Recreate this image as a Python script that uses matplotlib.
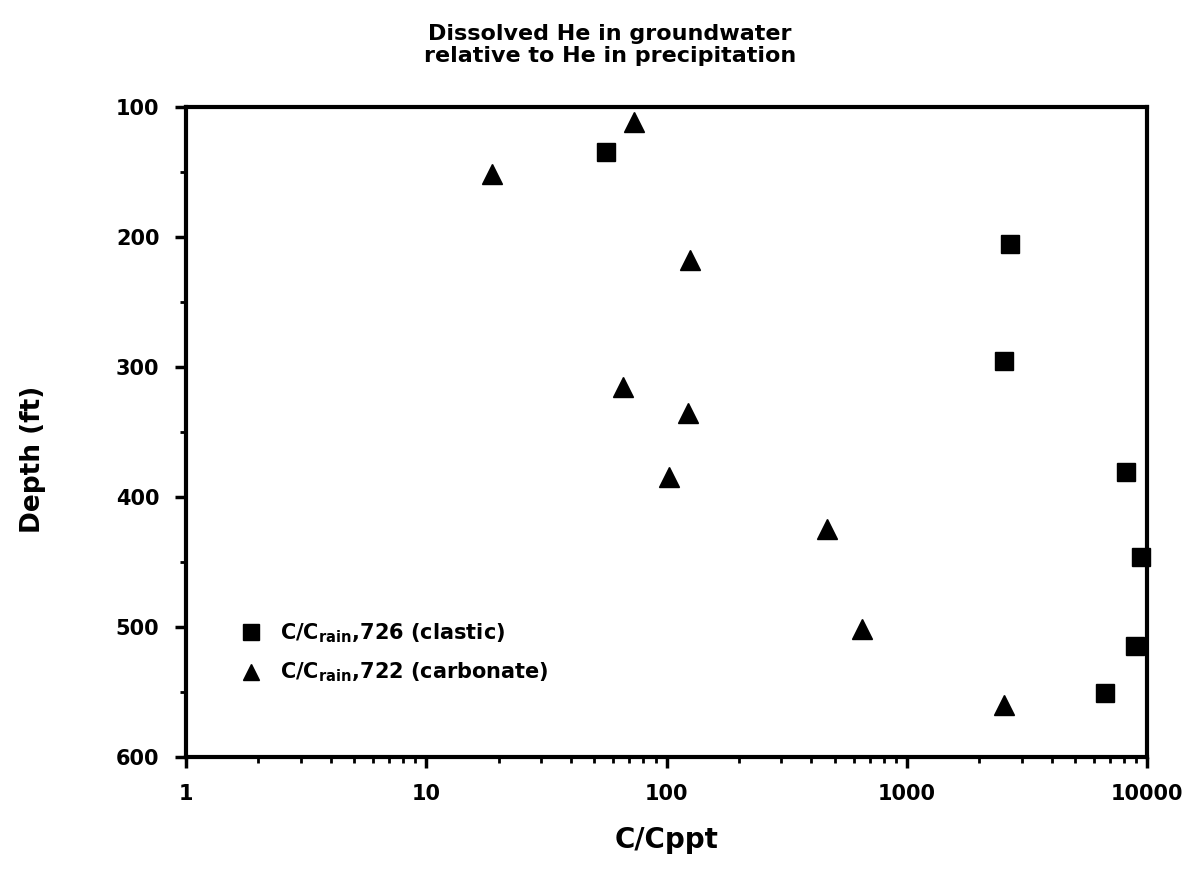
"""Dissolved He in groundwater relative to He in precipitation (depth vs C/Cppt)."""

import matplotlib

matplotlib.use("Agg")
import matplotlib.pyplot as plt
from matplotlib.ticker import FixedLocator, FuncFormatter, LogLocator, MultipleLocator, NullFormatter

# clastic well 726 (squares)
clastic_ratio = [56, 2690, 2530, 8170, 9380, 8850, 6700]
clastic_depth = [134.6, 205.6, 295.8, 381.2, 446.2, 514.8, 550.5]

# carbonate well 722 (triangles)
carbonate_ratio = [73, 18.8, 125, 65.8, 123, 102, 467, 651, 2540]
carbonate_depth = [111.5, 151.8, 218.2, 315.6, 335.6, 385.0, 425.0, 501.5, 560.2]

x_ticks = [1, 10, 100, 1000, 10000]
y_ticks = [100, 200, 300, 400, 500, 600]

plt.rcParams["font.family"] = ["DejaVu Sans"]
plt.rcParams["font.weight"] = "bold"
plt.rcParams["mathtext.fontset"] = "custom"
plt.rcParams["mathtext.rm"] = "DejaVu Sans:bold"
plt.rcParams["mathtext.it"] = "DejaVu Sans:bold"
plt.rcParams["mathtext.bf"] = "DejaVu Sans:bold"

fig = plt.figure(figsize=(11.84, 8.96), dpi=100)
ax = fig.add_axes([0.157, 0.155, 0.812, 0.726])

ax.plot(clastic_ratio, clastic_depth, "s", color="black", markersize=13,
        linestyle="none", label=r"C/C$_{\mathrm{rain}}$,726 (clastic)", clip_on=False)
ax.plot(carbonate_ratio, carbonate_depth, "^", color="black", markersize=14,
        linestyle="none", label=r"C/C$_{\mathrm{rain}}$,722 (carbonate)", clip_on=False)

ax.set_xscale("log")
ax.set_xlim(1, 10000)
ax.set_ylim(600, 100)

ax.xaxis.set_major_locator(FixedLocator(x_ticks))
ax.xaxis.set_major_formatter(FuncFormatter(lambda v, _: f"{v:g}"))
ax.xaxis.set_minor_locator(LogLocator(base=10, subs=range(2, 10)))
ax.xaxis.set_minor_formatter(NullFormatter())
ax.yaxis.set_major_locator(FixedLocator(y_ticks))
ax.yaxis.set_minor_locator(MultipleLocator(50))

for side in ["left", "right", "top", "bottom"]:
    ax.spines[side].set_linewidth(3)
ax.tick_params(which="major", direction="out", length=8, width=2.5, labelsize=15, pad=11)
ax.tick_params(which="minor", direction="out", length=4, width=2)
ax.tick_params(top=False, right=False, which="both")

ax.set_xlabel("C/Cppt", fontsize=20, fontweight="bold", labelpad=16)
ax.set_ylabel("Depth (ft)", fontsize=19, fontweight="bold")
ax.yaxis.set_label_coords(-0.146, 0.458)

fig.text(610 / 1184, 1 - 45 / 896, "Dissolved He in groundwater\nrelative to He in precipitation",
         ha="center", va="center", fontsize=16, fontweight="bold", linespacing=1.15)

ax.legend(loc="center left", bbox_to_anchor=(0.057, 0.160), frameon=False, fontsize=15,
          numpoints=1, handlelength=1.0, handletextpad=0.9, labelspacing=0.75,
          borderaxespad=0, borderpad=0, markerscale=0.85)

fig.savefig("out.png", dpi=100)
plt.close(fig)
